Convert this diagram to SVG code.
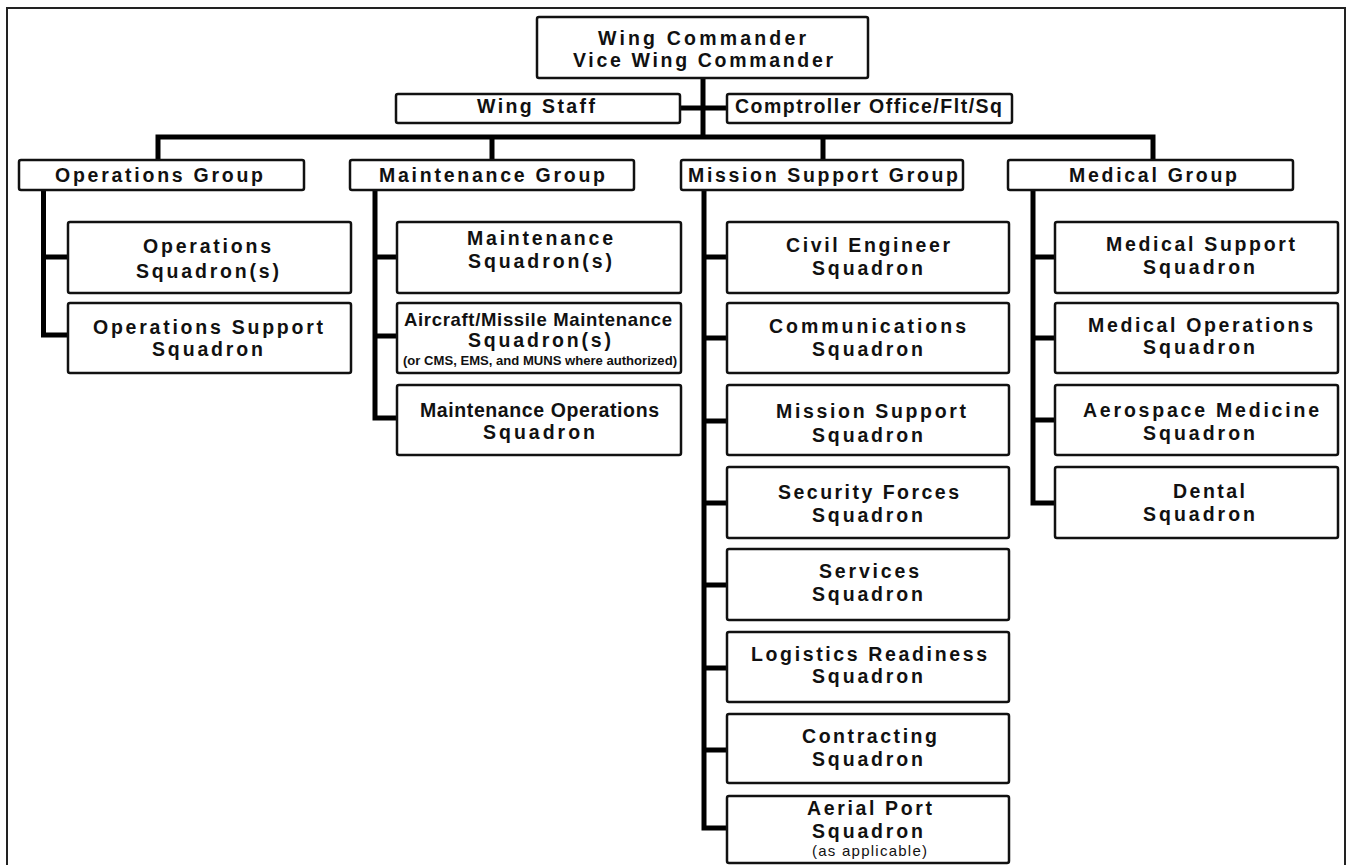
<svg xmlns="http://www.w3.org/2000/svg" width="1351" height="865" viewBox="0 0 1351 865">
<style>
.box{fill:#fff;stroke:#111;stroke-width:2.5}
.con{fill:none;stroke:#000;stroke-width:5;stroke-linejoin:miter;stroke-linecap:butt}
text{font-family:"Liberation Sans",Arial,sans-serif;font-weight:bold;font-size:19.5px;fill:#111}
.md{font-size:18.5px}
.sm{font-size:12px}
.ap{font-weight:normal;font-size:15px}
</style>
<rect x="0" y="0" width="1351" height="865" fill="#fff"/>
<rect x="7" y="8" width="1338" height="880" fill="none" stroke="#222" stroke-width="2"/>
<g id="connectors">
<path class="con" d="M703 78V137M680 108H727M158 160V137H1153V160M492 137V160M823 137V160"/>
<path class="con" d="M43.5 189V335H68M43.5 257H68"/>
<path class="con" d="M375 190V418H397M375 257H397M375 336H397"/>
<path class="con" d="M704 190V828H727M704 257H727M704 338H727M704 421H727M704 503H727M704 585H727M704 668H727M704 750H727"/>
<path class="con" d="M1033 190V503H1055M1033 257H1055M1033 338H1055M1033 420H1055"/>
</g>
<g id="wing-commander"><rect class="box" x="537" y="17" width="331" height="61" rx="2"/>
<text x="598" y="45" textLength="208" lengthAdjust="spacing">Wing Commander</text>
<text x="573" y="67" textLength="260" lengthAdjust="spacing">Vice Wing Commander</text></g>
<g id="wing-staff"><rect class="box" x="396" y="94" width="284" height="29" rx="2"/>
<text x="477" y="113" textLength="118" lengthAdjust="spacing">Wing Staff</text></g>
<g id="comptroller"><rect class="box" x="727" y="94" width="285" height="29" rx="2"/>
<text x="735" y="113" textLength="267" lengthAdjust="spacing">Comptroller Office/Flt/Sq</text></g>
<g id="operations-group"><rect class="box" x="19" y="160" width="285" height="30" rx="2"/>
<text x="55" y="182" textLength="208" lengthAdjust="spacing">Operations Group</text></g>
<g id="maintenance-group"><rect class="box" x="350" y="160" width="284" height="30" rx="2"/>
<text x="379" y="182" textLength="226" lengthAdjust="spacing">Maintenance Group</text></g>
<g id="mission-support-group"><rect class="box" x="681" y="160" width="282" height="30" rx="2"/>
<text x="688" y="182" textLength="270" lengthAdjust="spacing">Mission Support Group</text></g>
<g id="medical-group"><rect class="box" x="1008" y="160" width="285" height="30" rx="2"/>
<text x="1069" y="182" textLength="168" lengthAdjust="spacing">Medical Group</text></g>
<g id="ops-sq"><rect class="box" x="68" y="222" width="283" height="71" rx="2"/>
<text x="143" y="253" textLength="128" lengthAdjust="spacing">Operations</text>
<text x="136" y="278" textLength="143" lengthAdjust="spacing">Squadron(s)</text></g>
<g id="ops-support-sq"><rect class="box" x="68" y="303" width="283" height="70" rx="2"/>
<text x="93" y="334" textLength="230" lengthAdjust="spacing">Operations Support</text>
<text x="152" y="356" textLength="111" lengthAdjust="spacing">Squadron</text></g>
<g id="mx-sq"><rect class="box" x="397" y="222" width="284" height="71" rx="2"/>
<text x="467" y="245" textLength="146" lengthAdjust="spacing">Maintenance</text>
<text x="468" y="268" textLength="144" lengthAdjust="spacing">Squadron(s)</text></g>
<g id="amx-sq"><rect class="box" x="397" y="303" width="284" height="70" rx="2"/>
<text class="md" x="404" y="326" textLength="268" lengthAdjust="spacing">Aircraft/Missile Maintenance</text>
<text x="468" y="347" textLength="143" lengthAdjust="spacing">Squadron(s)</text>
<text class="sm" x="403" y="365" textLength="274" lengthAdjust="spacingAndGlyphs">(or CMS, EMS, and MUNS where authorized)</text></g>
<g id="mxo-sq"><rect class="box" x="397" y="385" width="284" height="70" rx="2"/>
<text x="420" y="417" textLength="239" lengthAdjust="spacing">Maintenance Operations</text>
<text x="483" y="439" textLength="112" lengthAdjust="spacing">Squadron</text></g>
<g id="ce-sq"><rect class="box" x="727" y="222" width="282" height="71" rx="2"/>
<text x="786" y="252" textLength="164" lengthAdjust="spacing">Civil Engineer</text>
<text x="812" y="275" textLength="111" lengthAdjust="spacing">Squadron</text></g>
<g id="comm-sq"><rect class="box" x="727" y="303" width="282" height="70" rx="2"/>
<text x="769" y="333" textLength="197" lengthAdjust="spacing">Communications</text>
<text x="812" y="356" textLength="111" lengthAdjust="spacing">Squadron</text></g>
<g id="ms-sq"><rect class="box" x="727" y="385" width="282" height="70" rx="2"/>
<text x="776" y="418" textLength="190" lengthAdjust="spacing">Mission Support</text>
<text x="812" y="442" textLength="111" lengthAdjust="spacing">Squadron</text></g>
<g id="sf-sq"><rect class="box" x="727" y="467" width="282" height="71" rx="2"/>
<text x="778" y="499" textLength="181" lengthAdjust="spacing">Security Forces</text>
<text x="812" y="522" textLength="111" lengthAdjust="spacing">Squadron</text></g>
<g id="svs-sq"><rect class="box" x="727" y="549" width="282" height="71" rx="2"/>
<text x="819" y="578" textLength="100" lengthAdjust="spacing">Services</text>
<text x="812" y="601" textLength="111" lengthAdjust="spacing">Squadron</text></g>
<g id="lr-sq"><rect class="box" x="727" y="632" width="282" height="70" rx="2"/>
<text x="751" y="661" textLength="236" lengthAdjust="spacing">Logistics Readiness</text>
<text x="812" y="683" textLength="111" lengthAdjust="spacing">Squadron</text></g>
<g id="cont-sq"><rect class="box" x="727" y="714" width="282" height="69" rx="2"/>
<text x="802" y="743" textLength="135" lengthAdjust="spacing">Contracting</text>
<text x="812" y="766" textLength="111" lengthAdjust="spacing">Squadron</text></g>
<g id="ap-sq"><rect class="box" x="727" y="796" width="282" height="67" rx="2"/>
<text x="807" y="815" textLength="125" lengthAdjust="spacing">Aerial Port</text>
<text x="812" y="838" textLength="111" lengthAdjust="spacing">Squadron</text>
<text class="ap" x="812" y="856" textLength="115" lengthAdjust="spacing">(as applicable)</text></g>
<g id="mds-sq"><rect class="box" x="1055" y="222" width="283" height="71" rx="2"/>
<text x="1106" y="251" textLength="189" lengthAdjust="spacing">Medical Support</text>
<text x="1143" y="274" textLength="112" lengthAdjust="spacing">Squadron</text></g>
<g id="mdo-sq"><rect class="box" x="1055" y="303" width="283" height="70" rx="2"/>
<text x="1088" y="332" textLength="225" lengthAdjust="spacing">Medical Operations</text>
<text x="1143" y="354" textLength="112" lengthAdjust="spacing">Squadron</text></g>
<g id="amd-sq"><rect class="box" x="1055" y="385" width="283" height="70" rx="2"/>
<text x="1083" y="417" textLength="236" lengthAdjust="spacing">Aerospace Medicine</text>
<text x="1143" y="440" textLength="112" lengthAdjust="spacing">Squadron</text></g>
<g id="dental-sq"><rect class="box" x="1055" y="467" width="283" height="71" rx="2"/>
<text x="1173" y="498" textLength="72" lengthAdjust="spacing">Dental</text>
<text x="1143" y="521" textLength="112" lengthAdjust="spacing">Squadron</text></g>
</svg>
